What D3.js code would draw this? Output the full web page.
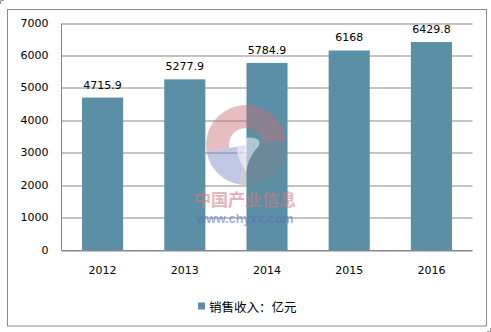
<!DOCTYPE html>
<html><head><meta charset="utf-8">
<script src="https://cdn.jsdelivr.net/npm/d3@7"></script>
<style>
html,body{margin:0;padding:0;background:#fff;}
svg{display:block;}
</style></head>
<body>
<svg id="chart" width="491" height="332"></svg>
<script>
const categories = ["2012","2013","2014","2015","2016"];
const salesRevenue = [4715.9, 5277.9, 5784.9, 6168, 6429.8];
const valueLabels = ["4715.9","5277.9","5784.9","6168","6429.8"];
const yTicks = [0,1000,2000,3000,4000,5000,6000,7000];
const seriesName = "销售收入：亿元";

const svg = d3.select("#chart");
const plot = {left:61.5, right:472.5, top:23.5, bottom:250.5};
const barColor = "#5b8fa5";
const gridColor = "#878787";
const font = "'DejaVu Sans', Verdana, sans-serif";

// outer frame
svg.append("rect").attr("x",7.5).attr("y",9.5).attr("width",479).attr("height",316.5)
  .attr("fill","#fff").attr("stroke","#8c8c8c").attr("stroke-width",1);
// corner marks
svg.append("path").attr("d","M0.5,4 L0.5,0.5 L4,0.5").attr("fill","none").attr("stroke","#999");
svg.append("path").attr("d","M487,331.5 L490.5,331.5 L490.5,328").attr("fill","none").attr("stroke","#999");

const x = d3.scaleBand().domain(categories).range([plot.left, plot.right]).paddingInner(0.5).paddingOuter(0.25);
const y = d3.scaleLinear().domain([0,7000]).range([plot.bottom, plot.top]);

// gridlines + y labels
const yAxis = d3.axisLeft(y).tickValues(yTicks).tickSize(-(plot.right-plot.left)).tickPadding(13).tickFormat(d3.format("d"));
const gy = svg.append("g").attr("transform",`translate(${plot.left},0)`).call(yAxis);
gy.selectAll(".tick line").attr("stroke",gridColor).attr("stroke-width",1).attr("transform","translate(0,0.5)");
gy.selectAll(".tick").attr("transform",d=>`translate(0,${Math.round(y(d))-0.5})`);
gy.select(".domain").remove();
gy.selectAll(".tick text").attr("font-family",font).attr("font-size",11).attr("fill","#000");
svg.append("line").attr("x1",plot.left).attr("x2",plot.left).attr("y1",plot.top).attr("y2",plot.bottom)
  .attr("stroke",gridColor);

// bars
svg.append("g").selectAll("rect").data(salesRevenue).join("rect")
  .attr("x",(d,i)=>x(categories[i]))
  .attr("y",d=>y(d))
  .attr("width",x.bandwidth())
  .attr("height",d=>plot.bottom-y(d))
  .attr("fill",barColor);

// baseline
svg.append("line").attr("x1",plot.left).attr("x2",plot.right).attr("y1",plot.bottom).attr("y2",plot.bottom)
  .attr("stroke",gridColor);

// value labels
svg.append("g").selectAll("text").data(salesRevenue).join("text")
  .attr("x",(d,i)=>x(categories[i])+x.bandwidth()/2)
  .attr("y",d=>y(d)-9)
  .attr("text-anchor","middle").attr("font-family",font).attr("font-size",11).attr("fill","#000")
  .text((d,i)=>valueLabels[i]);

// x axis labels
const xAxis = d3.axisBottom(x).tickSize(0).tickPadding(16);
const gx = svg.append("g").attr("transform",`translate(0,${plot.bottom})`).call(xAxis);
gx.select(".domain").remove();
gx.selectAll(".tick text").attr("font-family",font).attr("font-size",11).attr("fill","#000");

// watermark
const wm = svg.append("g").attr("transform","translate(246,145)");
const arc = d3.arc();
wm.append("path").attr("d",arc({innerRadius:17,outerRadius:40,startAngle:-1.75,endAngle:1.45}))
  .attr("fill","rgb(200,110,120)").attr("opacity",0.45);
wm.append("path").attr("d",arc({innerRadius:0,outerRadius:40,startAngle:3.3,endAngle:4.53}))
  .attr("fill","rgb(120,130,200)").attr("opacity",0.45);
wm.append("path").attr("d",arc({innerRadius:10,outerRadius:40,startAngle:1.45,endAngle:3.3}))
  .attr("fill","rgb(130,130,140)").attr("opacity",0.4);
wm.append("path").attr("d","M-4,-6 C6,-10 18,-6 12,2 C6,8 2,16 0,27 C-6,16 -14,4 -4,-6 Z")
  .attr("fill","#fff").attr("opacity",0.5);
svg.append("text").attr("x",245).attr("y",206).attr("text-anchor","middle")
  .attr("font-family","'Noto Sans CJK SC', sans-serif").attr("font-weight","bold").attr("font-size",17)
  .attr("fill","rgb(210,120,125)").attr("opacity",0.55).text("中国产业信息");
svg.append("text").attr("x",245).attr("y",222.5).attr("text-anchor","middle")
  .attr("font-family","'Liberation Sans', Arial, sans-serif").attr("font-weight","bold").attr("font-size",12.5)
  .attr("fill","rgb(90,110,190)").attr("opacity",0.55).text("www.chyxx.com");

// legend
const lg = svg.append("g");
lg.append("rect").attr("x",198).attr("y",302.5).attr("width",7).attr("height",7).attr("fill",barColor);
lg.append("text").attr("x",209).attr("y",311.5).attr("font-family","'Noto Sans CJK SC', sans-serif")
  .attr("font-size",12.5).attr("fill","#000").text(seriesName);
</script>
</body></html>
